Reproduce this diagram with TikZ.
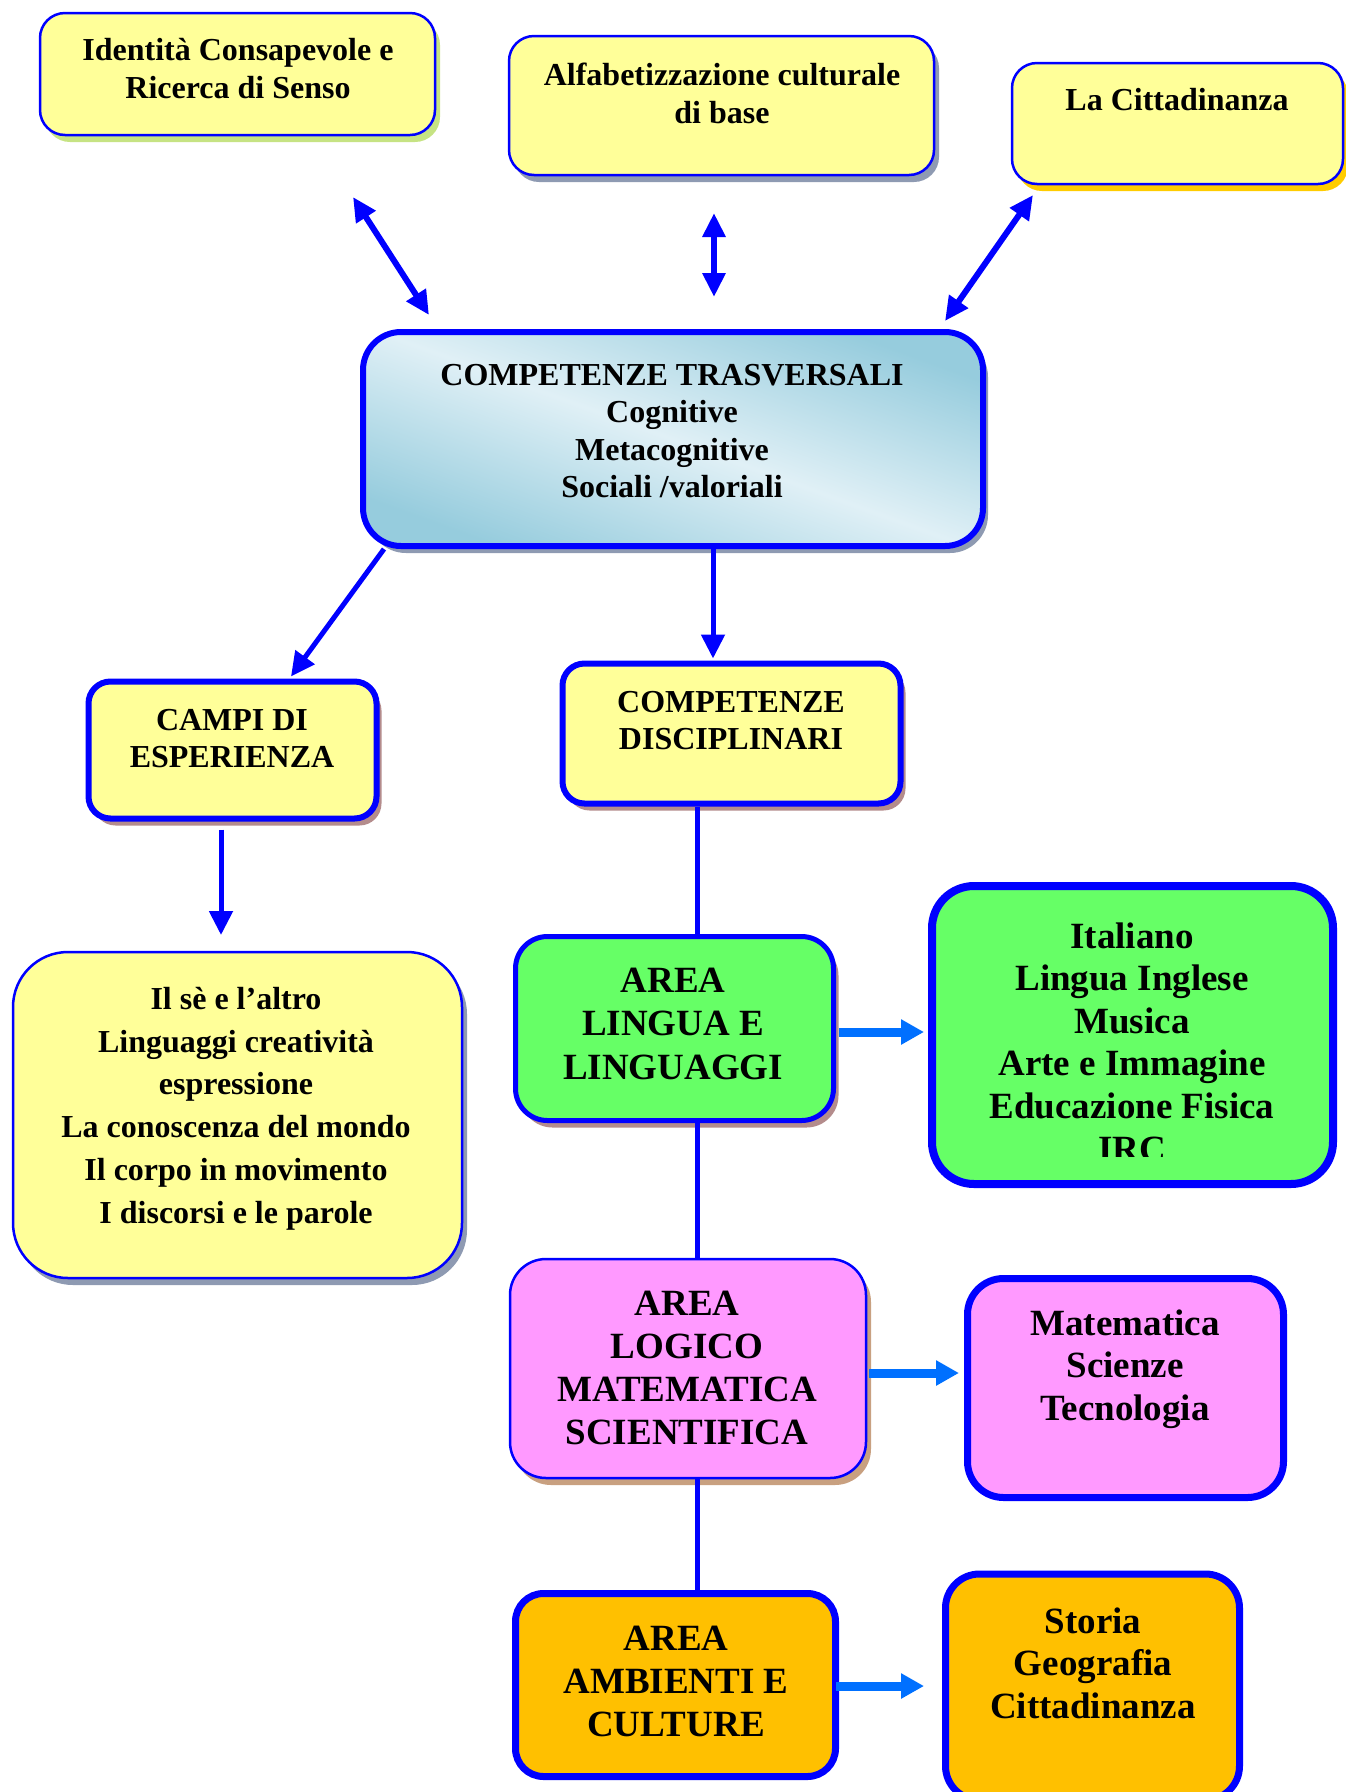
\documentclass[tikz,border=0pt]{standalone}
\usepackage{fontspec}
\setmainfont{Liberation Serif}
\usetikzlibrary{arrows.meta,shadows,calc}
\definecolor{bblue}{HTML}{0000FF}
\definecolor{lblue}{HTML}{0070FF}
\definecolor{yfill}{HTML}{FFFF99}
\definecolor{gfill}{HTML}{66FF66}
\definecolor{pfill}{HTML}{FF99FF}
\definecolor{ofill}{HTML}{FFC000}
\definecolor{shgreen}{HTML}{C6E383}
\definecolor{shgrey}{HTML}{8E9AB2}
\definecolor{shgold}{HTML}{FFCC00}
\definecolor{shbrown}{HTML}{B48C8C}
\definecolor{shtan}{HTML}{C8A080}
\definecolor{ctdark}{HTML}{96CCDD}
\definecolor{ctlight}{HTML}{E0F0F6}
\pgfdeclarehorizontalshading{ctshade}{100bp}{color(0bp)=(ctdark); color(25bp)=(ctdark); color(50bp)=(ctlight); color(75bp)=(ctdark); color(100bp)=(ctdark)}
\tikzset{
  boxbase/.style={inner sep=0pt, draw=bblue},
  thinbox/.style={boxbase, line width=2.5pt},
  thickbox/.style={boxbase, line width=6pt},
  shad/.style={drop shadow={shadow xshift=5pt, shadow yshift=-7pt, fill=#1, opacity=1}},
  txt/.style 2 args={font=\bfseries\fontsize{#1}{#2}\selectfont, align=center, inner sep=0pt},
  dblarrow/.style={draw=bblue, line width=6pt, {Triangle[length=24pt,width=22pt]}-{Triangle[length=24pt,width=22pt]}},
  onearrow/.style={draw=bblue, line width=5pt, -{Triangle[length=24pt,width=23pt]}},
  vline/.style={draw=bblue, line width=5pt},
  lbarrow/.style={draw=lblue, line width=9pt, -{Triangle[length=23pt,width=24pt]}}
}
\begin{document}
\begin{tikzpicture}[x=1pt,y=-1pt]
\useasboundingbox (0,0) rectangle (1346,1792);
% top boxes
\node[thinbox, fill=yfill, rounded corners=25pt, shad=shgreen, minimum width=395pt, minimum height=122pt] (b1) at (237.5,74) {};
\node[txt={32}{38}] (t1) at (238,69) {Identità Consapevole e\\Ricerca di Senso};
\node[thinbox, fill=yfill, rounded corners=25pt, shad=shgrey, minimum width=425pt, minimum height=139pt] (b2) at (721.5,105.5) {};
\node[txt={32}{38}] (t2) at (722,93) {Alfabetizzazione culturale\\di base};
\node[thinbox, fill=yfill, rounded corners=25pt, shad=shgold, minimum width=331pt, minimum height=121pt] (b3) at (1177.5,123.5) {};
\node[txt={32}{38}] (t3) at (1177,100) {La Cittadinanza};
% central box
\node[boxbase, line width=6pt, shading=ctshade, shading angle=70, rounded corners=38pt, shad=shgrey, minimum width=620pt, minimum height=214pt] (ct) at (673,439) {};
\node[txt={32}{37.3}] (tct) at (672,431) {COMPETENZE TRASVERSALI\\Cognitive\\Metacognitive\\Sociali /valoriali};
% top arrows
\coordinate (a1s) at (353,197); \coordinate (a1e) at (429,315);
\coordinate (a2s) at (714,213); \coordinate (a2e) at (714,297);
\coordinate (a3s) at (1033,195); \coordinate (a3e) at (945,321);
\draw[dblarrow] (a1s) -- (a1e);
\draw[dblarrow] (a2s) -- (a2e);
\draw[dblarrow] (a3s) -- (a3e);
% second row
\node[thickbox, fill=yfill, rounded corners=22pt, shad=shbrown, minimum width=288pt, minimum height=137pt] (campi) at (232.5,750) {};
\node[txt={32}{37}] (tcampi) at (232,738.5) {CAMPI DI\\ESPERIENZA};
\node[thickbox, fill=yfill, rounded corners=22pt, shad=shbrown, minimum width=338pt, minimum height=140pt] (cd) at (731.5,733.5) {};
\node[txt={32}{37}] (tcd) at (731,720.5) {COMPETENZE\\DISCIPLINARI};
\draw[onearrow] ($(ct.south west)+(24,0)$) -- ($(campi.north)+(58.5,-2)$);
\draw[onearrow] ($(ct.south)+(40,0)$) -- ($(cd.north)+(-18.5,-2)$);
% Il se box
\node[thinbox, fill=yfill, rounded corners=55pt, shad=shgrey, minimum width=449pt, minimum height=326pt] (ilse) at (237.5,1115) {};
\node[txt={32}{42.8}] (tilse) at (236,1108.5) {Il sè e l’altro\\Linguaggi creatività\\espressione\\La conoscenza del mondo\\Il corpo in movimento\\I discorsi e le parole};
\coordinate (ce) at (221,935);
\draw[onearrow] ($(campi.south)+(-11.5,8)$) -- (ce);
% green
\node[thickbox, line width=5pt, fill=gfill, rounded corners=32pt, shad=shbrown, minimum width=318pt, minimum height=184pt] (ga) at (674.5,1028.5) {};
\node[txt={37}{43.5}] (tga) at (673,1023.5) {AREA\\LINGUA E\\LINGUAGGI};
\node[boxbase, line width=8pt, fill=gfill, rounded corners=42pt, minimum width=401pt, minimum height=298pt] (it) at (1132.5,1035) {};
\begin{scope}
\clip (900,880) rectangle (1346,1156);
\node[txt={37}{42.6}] (tit) at (1132,1042) {Italiano\\Lingua Inglese\\Musica\\Arte e Immagine\\Educazione Fisica\\IRC};
\end{scope}
% pink
\node[thinbox, fill=pfill, rounded corners=36pt, shad=shtan, minimum width=356pt, minimum height=219pt] (pa) at (688,1368.5) {};
\node[txt={37}{43}] (tpa) at (687,1367.5) {AREA\\LOGICO\\MATEMATICA\\SCIENTIFICA};
\node[thickbox, line width=7pt, fill=pfill, rounded corners=36pt, minimum width=316pt, minimum height=219pt] (ma) at (1125.5,1388) {};
\node[txt={37}{42.7}] (tma) at (1125,1369) {Matematica\\Scienze\\Tecnologia};
% orange
\node[thickbox, line width=7pt, fill=ofill, rounded corners=28pt, minimum width=320pt, minimum height=183pt] (oa) at (675.5,1685) {};
\node[txt={37}{43}] (toa) at (676,1681) {AREA\\AMBIENTI E\\CULTURE};
\node[thickbox, line width=7pt, fill=ofill, rounded corners=34pt, minimum width=294pt, minimum height=226pt] (st) at (1092.5,1687) {};
\node[txt={37}{42.5}] (tst) at (1093,1663) {Storia\\Geografia\\Cittadinanza};
% vertical connectors
\draw[vline] ($(cd.south)+(-34.5,0)$) -- ($(ga.north)+(22.5,0)$);
\draw[vline] ($(ga.south)+(22.5,0)$) -- ($(pa.north)+(9,0)$);
\draw[vline] ($(pa.south)+(9,0)$) -- ($(oa.north)+(21.5,0)$);
% light blue arrows
\draw[lbarrow] ($(ga.east)+(3,3.5)$) -- ($(it.west)+(-4,-3)$);
\draw[lbarrow] ($(pa.east)+(2,4.5)$) -- ($(ma.west)+(-5,-15)$);
\coordinate (se) at (924,1686);
\draw[lbarrow] ($(oa.east)+(-3,1)$) -- (se);
\end{tikzpicture}
\end{document}
